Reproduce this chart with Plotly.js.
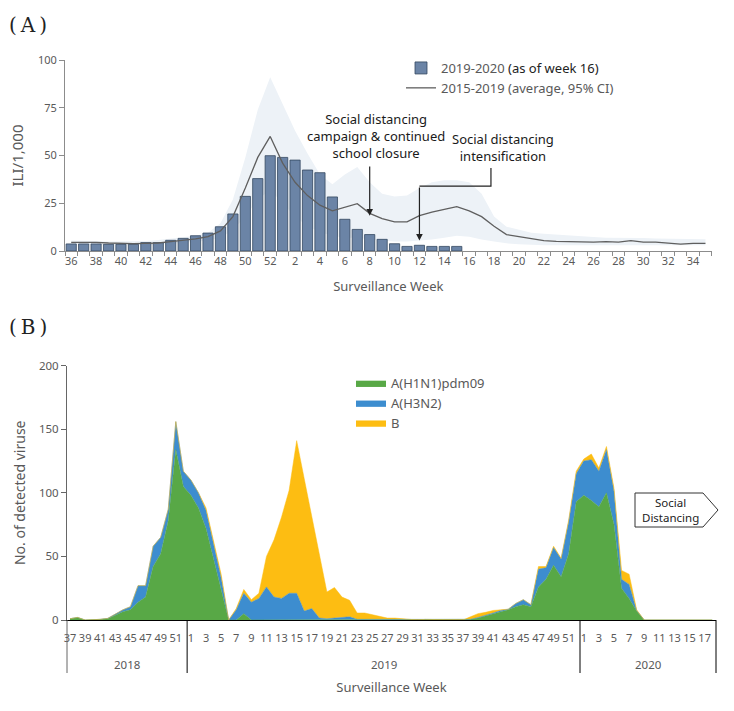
<!DOCTYPE html>
<html>
<head>
<meta charset="utf-8">
<script src="https://cdn.plot.ly/plotly-3.0.1.min.js"></script>
<style>
  html, body { margin: 0; padding: 0; background: #fff; }
  #chart { width: 734px; height: 711px; }
</style>
</head>
<body>
<div id="chart"></div>
<script>
// (A) ILI per 1,000 outpatients, week 36 (2019) to week 35 (2020)
const iliWeeks = [36,37,38,39,40,41,42,43,44,45,46,47,48,49,50,51,52,
  1,2,3,4,5,6,7,8,9,10,11,12,13,14,15,16,17,18,19,20,21,22,23,24,25,26,27,28,29,30,31,32,33,34,35];
// 2019-2020 season, reported up to week 15
const ili2020 = [3.7,3.7,3.7,3.5,3.5,3.5,4.4,4.4,5.6,6.6,8.0,9.4,12.7,19.4,28.6,37.9,49.9,
  49.0,47.6,42.4,41.0,28.3,16.6,11.3,8.6,6.1,3.8,2.4,3.0,2.4,2.4,2.4];
// 2015-2019 average and its 95% CI
const iliAvg = [4.5,4.6,4.5,4.2,4.0,3.9,4.0,4.2,4.9,5.6,6.3,7.5,10.5,18,33,49,60,
  46,36,29,24,21,23,24.8,19.7,17,15.3,15.3,18.5,20.4,21.8,23.2,21,18,13,8.6,7.5,
  6.3,5.4,5,4.9,4.9,4.6,4.9,4.6,5.4,4.6,4.6,4.2,3.6,4.0,4.0];
const ciUpper = [5.5,5.5,5.3,5.0,5.0,5.0,5.2,5.8,6.5,7.3,8.0,9.5,14.5,27,49,74,91,
  77,63,51,40,35,40,44,36,30,28.5,29,33,36,37,37,36,30,18,12.7,11,
  9.5,9,8.5,8,7.5,7.3,7,7,7,6.8,6.6,6.5,6.3,6.2,6.2];
const ciLower = [3.5,3.5,3.4,3.2,3.1,3.0,3.1,3.3,3.7,4.2,4.8,5.5,7,11,18,27,32,
  25,18,13,10,8,7,7,6,5.5,5,5,5.5,6,7,8,7.5,6,5,4,3.5,
  3.2,3,3,3,3,3,3,3,3,3,3,3,3,3,3];

// (B) detected influenza viruses, week 37 (2018) to week 18 (2020)
const virusYears = [
  2018,2018,2018,2018,2018,2018,2018,2018,2018,2018,2018,2018,2018,2018,2018,2018,
  2019,2019,2019,2019,2019,2019,2019,2019,2019,2019,2019,2019,2019,
  2019,2019,2019,2019,2019,2019,2019,2019,2019,2019,2019,2019,2019,
  2019,2019,2019,2019,2019,2019,2019,2019,2019,2019,2019,2019,2019,
  2019,2019,2019,2019,2019,2019,2019,2019,2019,2019,2019,2019,2019,
  2020,2020,2020,2020,2020,2020,2020,2020,2020,2020,2020,2020,2020,2020,2020,2020,2020,2020];
const virusWeeks = [37,38,39,40,41,42,43,44,45,46,47,48,49,50,51,52,
  1,2,3,4,5,6,7,8,9,10,11,12,13,14,15,16,17,18,19,20,21,22,23,24,25,26,
  27,28,29,30,31,32,33,34,35,36,37,38,39,40,41,42,43,44,45,46,47,48,49,50,51,52,
  1,2,3,4,5,6,7,8,9,10,11,12,13,14,15,16,17,18];
const h1n1 = [1,2,0,0,0.5,1,4,6.5,8,14,18,42,52,78,134,105,
  98,88,72,48,24,0,0,5,0,0,0,0,0,0,0,0,0,0,0,0,0,0,0,0,0,0,
  0,0,0,0,0,0,0,0,0,0,0,0.5,1.5,3,5,6.5,8,10.5,12,10.5,26,32,43,34,52,93,
  98,94,89,100,75,25,17,7,0,null,null,null,null,null,null,null,null,null];
const h3n2 = [0,0,0,0,0,0.3,0.5,1.5,2.5,13,9,16,13,9,22,12,
  12,12,14,12,9,0,8,16,14,17,26,18,17,21,21,7,9,1.5,1,1.5,2,2.5,0.5,0.5,0,0,
  0,0,0,0,0,0.5,0.5,0,0.3,0,0,0,0.5,0.5,0.5,1,0.5,2.5,4,1.5,14,9,14,14,25,22,
  27,32,28,34,26,7,11,0.5,0,null,null,null,null,null,null,null,null,null];
const fluB = [0,0,0,0,0,0,0,0,0,0,0,0,0,0,0,0,
  0,0,2,2,3,0,1,3,2,4,24,45,64,81,120,104,72,50,21,24,16,13,5,5,4,2.5,
  1.5,1.5,1,0.5,0,0,0,0,0,0,0,2,3,2.5,2,0.5,0,0,0,0,2,1,1,0.5,1.5,2,
  1.5,4.5,2.4,2.4,2.5,7,8,0.5,0,null,null,null,null,null,null,null,null,null];

// page geometry (pixels of the 734x711 picture)
const W = 734, H = 711, L = 65, R = 18, T = 60, B = 91;
const PW = W - L - R, PH = H - T - B;
const px = v => (v - L) / PW;
const py = v => (H - B - v) / PH;

const grey = '#595959';
const font = 'Noto Sans, Open Sans, sans-serif';

const xi = iliWeeks.map((w, i) => i);
const xv = virusWeeks.map((w, i) => i);
const wk = w => iliWeeks.indexOf(w);

// bottom axis range/domain, used to place the year dividers
const x2range = [-0.4, virusWeeks.length - 0.5];
const x2dom = [px(67), 1];
const xp2 = v => x2dom[0] + (v - x2range[0]) / (x2range[1] - x2range[0]) * (x2dom[1] - x2dom[0]);

const traces = [
  { x: xi, y: ciLower, type: 'scatter', mode: 'lines', line: { width: 0 }, showlegend: false },
  { x: xi, y: ciUpper, type: 'scatter', mode: 'lines', fill: 'tonexty', fillcolor: '#edf2f7',
    line: { width: 0 }, showlegend: false },
  { x: xi.slice(0, ili2020.length), y: ili2020, type: 'bar', yaxis: 'y3',
    name: "2019-2020 <span style='color:#222'>(as of week 16)</span>",
    marker: { color: '#6b84a6', line: { color: '#34475f', width: 0.8 } } },
  { x: xi, y: iliAvg, type: 'scatter', mode: 'lines', yaxis: 'y3',
    name: '2015-2019 (average, 95% CI)', line: { color: '#5f5f5f', width: 1.3 } },

  { x: xv, y: h1n1, xaxis: 'x2', yaxis: 'y2', stackgroup: 'virus', name: 'A(H1N1)pdm09',
    fillcolor: '#58a846', line: { color: '#58a846', width: 0.5 }, legend: 'legend2' },
  { x: xv, y: h3n2, xaxis: 'x2', yaxis: 'y2', stackgroup: 'virus', name: 'A(H3N2)',
    fillcolor: '#3d8dcf', line: { color: '#3d8dcf', width: 0.5 }, legend: 'legend2' },
  { x: xv, y: fluB, xaxis: 'x2', yaxis: 'y2', stackgroup: 'virus', name: 'B',
    fillcolor: '#fdbd12', line: { color: '#fdbd12', width: 0.5 }, legend: 'legend2' }
];

// tick labels every other week
const topTicks = xi.filter(i => i % 2 === 0);
const botTicks = xv.filter(i => i % 2 === 0);

// year dividers and year labels under panel B
const shapes = [];
const annotations = [];
const years = [...new Set(virusYears)];
years.forEach((yr, k) => {
  const first = virusYears.indexOf(yr), last = virusYears.lastIndexOf(yr);
  if (k > 0) {
    shapes.push({ type: 'line', xref: 'paper', yref: 'paper', x0: xp2(first - 0.5), x1: xp2(first - 0.5),
      y0: 0, y1: py(673), line: { color: '#000', width: 1 } });
  }
  annotations.push({ xref: 'x2', yref: 'paper', x: (first + last) / 2, y: py(664), text: String(yr),
    xanchor: 'center', yanchor: 'middle', showarrow: false, font: { size: 11.5, color: grey } });
});
shapes.push({ type: 'line', xref: 'paper', yref: 'paper', x0: xp2(x2range[0]), x1: xp2(x2range[0]),
  y0: 0, y1: py(673), line: { color: '#666', width: 1 } });
shapes.push({ type: 'line', xref: 'paper', yref: 'paper', x0: xp2(x2range[1]), x1: xp2(x2range[1]),
  y0: 0, y1: py(673), line: { color: '#000', width: 1 } });

// elbow connector for "Social distancing intensification"
shapes.push({ type: 'path', xref: 'x', yref: 'y', line: { color: '#222', width: 1.2 },
  path: `M ${wk(17) + 0.75},43.5 L ${wk(17) + 0.75},34 L ${wk(12)},34` });

// "Social Distancing" tag in panel B
shapes.push({ type: 'path', xref: 'paper', yref: 'paper', fillcolor: '#fff', line: { color: '#333', width: 1 },
  path: `M ${px(635)},${py(493)} L ${px(703)},${py(493)} L ${px(718)},${py(510)} L ${px(703)},${py(527)} L ${px(635)},${py(527)} Z` });

annotations.push(
  { xref: 'paper', yref: 'paper', x: px(7), y: py(25), xanchor: 'left', yanchor: 'middle',
    text: '(\u2009A\u2009)', showarrow: false,
    font: { family: 'DejaVu Serif, serif', size: 20, color: '#222' } },
  { xref: 'paper', yref: 'paper', x: px(7), y: py(327), xanchor: 'left', yanchor: 'middle',
    text: '(\u2009B\u2009)', showarrow: false,
    font: { family: 'DejaVu Serif, serif', size: 20, color: '#222' } },
  { xref: 'x', yref: 'y', x: wk(8) + 0.5, y: 60, text: 'Social distancing<br>campaign &amp; continued<br>school closure',
    showarrow: false, font: { size: 13, color: '#1a1a1a' } },
  { xref: 'x', yref: 'y', x: wk(8), y: 18.5, ax: wk(8), ay: 45, axref: 'x', ayref: 'y', text: '',
    showarrow: true, arrowhead: 2, arrowsize: 1.1, arrowwidth: 1.2, arrowcolor: '#222' },
  { xref: 'x', yref: 'y', x: wk(17) + 1.7, y: 54, text: 'Social distancing<br>intensification',
    showarrow: false, font: { size: 13, color: '#1a1a1a' } },
  { xref: 'x', yref: 'y', x: wk(12), y: 5.5, ax: wk(12), ay: 34, axref: 'x', ayref: 'y', text: '',
    showarrow: true, arrowhead: 2, arrowsize: 1.1, arrowwidth: 1.2, arrowcolor: '#222' },
  { xref: 'paper', yref: 'paper', x: px(670), y: py(510), xanchor: 'center', yanchor: 'middle',
    text: 'Social<br>Distancing', showarrow: false, font: { size: 11.5, color: '#222' } }
);

const layout = {
  width: W, height: H,
  margin: { l: L, r: R, t: T, b: B },
  paper_bgcolor: '#fff', plot_bgcolor: 'rgba(0,0,0,0)',
  font: { family: font, color: grey, size: 11 },
  hovermode: false,
  bargap: 0.18,
  xaxis: {
    domain: [0, px(711.7)], range: [-0.5, iliWeeks.length - 0.5], anchor: 'y',
    tickmode: 'array', tickvals: topTicks, ticktext: topTicks.map(i => String(iliWeeks[i])),
    ticks: '', showline: true, linecolor: '#8c8c8c', showgrid: false, zeroline: false,
    minor: { tickmode: 'array', tickvals: xi.map(i => i - 0.5).concat([xi.length - 0.5]),
      ticks: 'outside', ticklen: 4, tickcolor: '#8c8c8c', showgrid: false },
    tickfont: { size: 11 },
    title: { text: 'Surveillance Week', font: { size: 13 }, standoff: 14 }
  },
  yaxis: {
    domain: [py(251), 1], range: [0, 100], anchor: 'x',
    tickmode: 'array', tickvals: [0, 25, 50, 75, 100],
    ticks: 'outside', ticklen: 5, tickcolor: '#8c8c8c',
    showline: true, linecolor: '#8c8c8c', showgrid: false, zeroline: false,
    tickfont: { size: 11 },
    title: { text: 'ILI/1,000', font: { size: 15 }, standoff: 10 }
  },
  yaxis3: { overlaying: 'y', anchor: 'x', range: [0, 100], visible: false },
  xaxis2: {
    domain: x2dom, range: x2range, anchor: 'y2',
    tickmode: 'array', tickvals: botTicks, ticktext: botTicks.map(i => String(virusWeeks[i])),
    ticks: '', ticklabelstandoff: 8, showline: true, linecolor: '#000', showgrid: false, zeroline: false,
    tickfont: { size: 11 },
    title: { text: 'Surveillance Week', font: { size: 13 }, standoff: 38 }
  },
  yaxis2: {
    domain: [0, py(365.6)], range: [0, 200], anchor: 'x2',
    tickmode: 'array', tickvals: [0, 50, 100, 150, 200],
    ticks: 'outside', ticklen: 5, tickcolor: '#666',
    showline: true, linecolor: '#666', showgrid: false, zeroline: false,
    tickfont: { size: 11.5 },
    title: { text: 'No. of detected viruse', font: { size: 14 }, standoff: 10 }
  },
  legend: {
    x: px(401), y: py(53), xanchor: 'left', yanchor: 'top', bgcolor: 'rgba(0,0,0,0)',
    font: { size: 13, color: grey }, traceorder: 'normal'
  },
  legend2: {
    x: px(351), y: py(368), xanchor: 'left', yanchor: 'top', bgcolor: 'rgba(0,0,0,0)',
    font: { size: 13, color: grey }, traceorder: 'normal'
  },
  shapes: shapes,
  annotations: annotations
};

Plotly.newPlot('chart', traces, layout, { staticPlot: true, displayModeBar: false });
</script>
</body>
</html>
